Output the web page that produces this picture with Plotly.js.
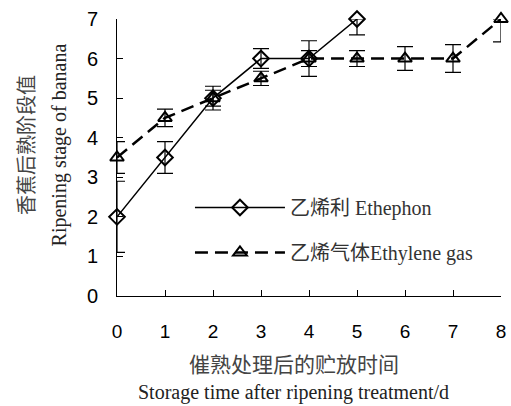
<!DOCTYPE html>
<html>
<head>
<meta charset="utf-8">
<script src="https://cdn.plot.ly/plotly-3.0.1.min.js"></script>
<style>html,body{margin:0;padding:0;background:#fff;}#chart{width:511px;height:406px;}</style>
</head>
<body>
<div id="chart"></div>
<script>
// Data
var daysEthephon = [0, 1, 2, 3, 4, 5];
var stageEthephon = [2, 3.5, 5, 6, 6, 7];
var errPlusEthephon = [0.9, 0.4, 0.3, 0.25, 0.45, 0];
var errMinusEthephon = [0.9, 0.4, 0.3, 0.25, 0.45, 0.4];

var daysGas = [0, 1, 2, 3, 4, 5, 6, 7, 8];
var stageGas = [3.5, 4.5, 5, 5.5, 6, 6, 6, 6, 7];
var errPlusGas = [0.4, 0.22, 0.2, 0.18, 0.2, 0.2, 0.3, 0.35, 0];
var errMinusGas = [0.4, 0.22, 0.2, 0.18, 0.2, 0.2, 0.3, 0.35, 0.58];

var nameEthephon = '乙烯利 Ethephon';
var nameGas = '乙烯气体Ethylene gas';
var xTickVals = [0, 1, 2, 3, 4, 5, 6, 7, 8];
var yTickVals = [0, 1, 2, 3, 4, 5, 6, 7];

var serifFont = '"Liberation Serif", "Times New Roman", "Noto Sans CJK SC", serif';
var sansFont = '"Liberation Sans", Arial, sans-serif';
var cjkFont = '"Noto Sans CJK SC", sans-serif';

var traces = [
  {
    x: daysEthephon, y: stageEthephon, name: nameEthephon, legendgroup: 'a',
    type: 'scatter', mode: 'lines+markers', cliponaxis: false,
    line: {color: '#000', width: 1.5},
    marker: {symbol: 'diamond-open', size: 12, color: '#000', line: {width: 2, color: '#000'}},
    error_y: {type: 'data', symmetric: false, array: errPlusEthephon, arrayminus: errMinusEthephon,
              color: '#000', thickness: 1.2, width: 8}
  },
  {
    x: daysGas, y: stageGas, name: nameGas, legendgroup: 'b',
    type: 'scatter', mode: 'lines+markers', cliponaxis: false,
    line: {color: '#000', width: 2.5, dash: '13px,7px'},
    marker: {symbol: 'triangle-up-open', size: 12, color: '#000', line: {width: 2, color: '#000'}},
    error_y: {type: 'data', symmetric: false, array: errPlusGas, arrayminus: errMinusGas,
              color: '#000', thickness: 1.2, width: 8}
  }
];

var layout = {
  width: 511, height: 406,
  margin: {l: 117, r: 10, t: 19, b: 110},
  paper_bgcolor: '#fff', plot_bgcolor: '#fff',
  showlegend: true,
  legend: {
    x: 0.19, y: 0.39, xanchor: 'left', yanchor: 'top',
    bgcolor: 'rgba(0,0,0,0)', itemwidth: 90, tracegroupgap: 16,
    font: {family: serifFont, size: 20, color: '#333'}
  },
  xaxis: {
    range: [0, 8], tickvals: xTickVals, ticks: 'inside', ticklen: 6, tickcolor: '#000',
    showline: true, linecolor: '#000', linewidth: 1, showgrid: false, zeroline: false,
    tickfont: {family: sansFont, size: 19, color: '#000'}, ticklabelstandoff: 18
  },
  yaxis: {
    range: [0, 7], tickvals: yTickVals, ticks: 'inside', ticklen: 6, tickcolor: '#000',
    showline: true, linecolor: '#000', linewidth: 1, showgrid: false, zeroline: false,
    tickfont: {family: sansFont, size: 20, color: '#000'}, ticklabelstandoff: 14
  },
  annotations: [
    {xref: 'paper', yref: 'paper', x: 0.46, y: -0.242, xanchor: 'center', yanchor: 'middle',
     text: '催熟处理后的贮放时间', showarrow: false, font: {family: cjkFont, size: 21, color: '#444'}},
    {xref: 'paper', yref: 'paper', x: 0.46, y: -0.348, xanchor: 'center', yanchor: 'middle',
     text: 'Storage time after ripening treatment/d', showarrow: false, font: {family: serifFont, size: 20, color: '#222'}},
    {xref: 'paper', yref: 'paper', x: -0.24, y: 0.545, xanchor: 'center', yanchor: 'middle', textangle: -90,
     text: '香蕉后熟阶段值', showarrow: false, font: {family: cjkFont, size: 20, color: '#444'}},
    {xref: 'paper', yref: 'paper', x: -0.15, y: 0.545, xanchor: 'center', yanchor: 'middle', textangle: -90,
     text: 'Ripening stage of banana', showarrow: false, font: {family: serifFont, size: 20, color: '#222'}}
  ]
};

Plotly.newPlot('chart', traces, layout, {displayModeBar: false, staticPlot: true});
</script>
</body>
</html>
